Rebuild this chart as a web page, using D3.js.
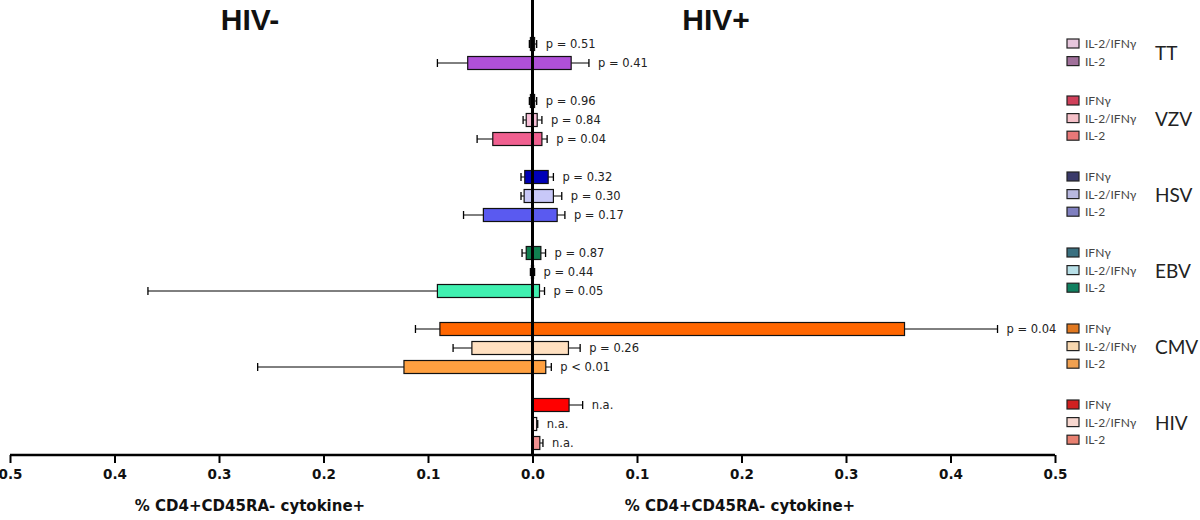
<!DOCTYPE html>
<html>
<head>
<meta charset="utf-8">
<script src="https://cdn.jsdelivr.net/npm/d3@7.9.0/dist/d3.min.js"></script>
<style>
  body { margin: 0; background: #fff; }
  svg { display: block; }
</style>
</head>
<body>
<svg id="chart" width="1200" height="520"></svg>
<script>
// --- data ---
const groups = ['TT', 'VZV', 'HSV', 'EBV', 'CMV', 'HIV'];
const cytokines = ['IFNγ', 'IL-2/IFNγ', 'IL-2'];

// one entry per drawn bar, top to bottom
const rowGroup    = ['TT', 'TT', 'VZV', 'VZV', 'VZV', 'HSV', 'HSV', 'HSV', 'EBV', 'EBV', 'EBV', 'CMV', 'CMV', 'CMV', 'HIV', 'HIV', 'HIV'];
const rowCytokine = ['IL-2/IFNγ', 'IL-2', 'IFNγ', 'IL-2/IFNγ', 'IL-2', 'IFNγ', 'IL-2/IFNγ', 'IL-2', 'IFNγ', 'IL-2/IFNγ', 'IL-2', 'IFNγ', 'IL-2/IFNγ', 'IL-2', 'IFNγ', 'IL-2/IFNγ', 'IL-2'];
// HIV- side (drawn to the left), null = n.a.
const hivNeg    = [0.002, 0.062, 0.002, 0.006, 0.038, 0.0074, 0.008, 0.047, 0.006, 0.001, 0.091, 0.0886, 0.058, 0.123, null, null, null];
const hivNegErr = [0.003, 0.091, 0.003, 0.009, 0.053, 0.011, 0.011, 0.066, 0.010, 0.002, 0.368, 0.112, 0.076, 0.263, null, null, null];
// HIV+ side (drawn to the right)
const hivPos    = [0.002, 0.037, 0.002, 0.0045, 0.009, 0.015, 0.020, 0.0236, 0.008, 0.001, 0.0067, 0.356, 0.0344, 0.0127, 0.035, 0.004, 0.007];
const hivPosErr = [0.004, 0.054, 0.004, 0.009, 0.014, 0.020, 0.028, 0.031, 0.0125, 0.002, 0.0115, 0.445, 0.0456, 0.018, 0.048, 0.005, 0.010];
const pLabels   = ['p = 0.51', 'p = 0.41', 'p = 0.96', 'p = 0.84', 'p = 0.04', 'p = 0.32', 'p = 0.30', 'p = 0.17', 'p = 0.87', 'p = 0.44', 'p = 0.05', 'p = 0.04', 'p = 0.26', 'p < 0.01', 'n.a.', 'n.a.', 'n.a.'];
const barColors = ['#e8c0e0', '#b050d8', '#e03060', '#f8c0d8', '#f06090', '#0000b8', '#c8c8f8', '#5a5af0', '#108050', '#a0e0e0', '#40f0b0', '#ff6600', '#ffe0c0', '#ffa040', '#ff0000', '#ffe8e8', '#f09090'];
const legendColors = ['#e6c6dc', '#a0709a', '#d0405a', '#f5c0c8', '#e87878', '#3a3a6a', '#b8b8e0', '#8080c0', '#3a7080', '#b8e0e8', '#108060', '#e07820', '#f8d8b0', '#f0a050', '#d02020', '#f8d8d0', '#e88070'];

const xTicks = [-0.5, -0.4, -0.3, -0.2, -0.1, 0, 0.1, 0.2, 0.3, 0.4, 0.5];
const sideTitles = ['HIV-', 'HIV+'];
const axisTitle = '% CD4+CD45RA- cytokine+';

// --- layout ---
const svg = d3.select('#chart');
const axisY = 455;

const x = d3.scaleLinear().domain([-0.5, 0.5]).range([10, 1055]);

// every group gets 3 cytokine slots plus one blank spacer slot
const slots = [];
groups.forEach((g, gi) => {
  cytokines.forEach(c => slots.push(g + '|' + c));
  if (gi < groups.length - 1) slots.push(g + '|gap');
});
const y = d3.scaleBand().domain(slots).range([15.5, 452.5]);
const rowY = i => y(rowGroup[i] + '|' + rowCytokine[i]) + y.bandwidth() / 2;
const barH = 13;

const rows = d3.range(rowGroup.length);

// --- bars ---
const bar = svg.append('g').selectAll('g').data(rows).join('g');

// error whiskers first so the bar sits on top
function whisker(sel, val, err) {
  sel.filter(i => val[i] !== null).each(function (i) {
    const g = d3.select(this);
    const sign = val === hivNeg ? -1 : 1;
    const yy = rowY(i);
    g.append('line')
      .attr('x1', x(sign * val[i])).attr('x2', x(sign * err[i]))
      .attr('y1', yy).attr('y2', yy)
      .attr('stroke', '#000').attr('stroke-width', 1);
    g.append('line')
      .attr('x1', x(sign * err[i])).attr('x2', x(sign * err[i]))
      .attr('y1', yy - 4).attr('y2', yy + 4)
      .attr('stroke', '#000').attr('stroke-width', 1.3);
  });
}
whisker(bar, hivNeg, hivNegErr);
whisker(bar, hivPos, hivPosErr);

bar.append('rect')
  .attr('x', i => x(hivNeg[i] === null ? 0 : -hivNeg[i]))
  .attr('y', i => rowY(i) - barH / 2)
  .attr('width', i => x(hivPos[i]) - x(hivNeg[i] === null ? 0 : -hivNeg[i]))
  .attr('height', barH)
  .attr('fill', i => barColors[i])
  .attr('stroke', '#111')
  .attr('stroke-width', 1.2);

bar.append('text')
  .attr('x', i => x(hivPosErr[i]) + 9)
  .attr('y', i => rowY(i) + 4)
  .attr('font-family', 'DejaVu Sans, sans-serif')
  .attr('font-size', 11.5)
  .attr('fill', '#222')
  .text(i => pLabels[i]);

// --- zero line ---
svg.append('line')
  .attr('x1', x(0)).attr('x2', x(0))
  .attr('y1', 0).attr('y2', axisY)
  .attr('stroke', '#000').attr('stroke-width', 3);

// --- x axis ---
const xAxis = d3.axisBottom(x)
  .tickValues(xTicks)
  .tickSize(8)
  .tickPadding(6)
  .tickFormat(d => d3.format('.1f')(Math.abs(d)));

const ax = svg.append('g').attr('transform', `translate(0,${axisY})`).call(xAxis);
ax.select('.domain').attr('stroke', '#000').attr('stroke-width', 2.5)
  .attr('d', `M${x(-0.5)},0H${x(0.5)}`);
ax.selectAll('.tick line').attr('stroke', '#000').attr('stroke-width', 2);
ax.selectAll('.tick text')
  .attr('fill', '#111')
  .attr('font-family', 'DejaVu Sans, sans-serif')
  .attr('font-weight', 'bold')
  .attr('font-size', 13.5);

// axis titles under each half
[250, 740].forEach(cx => {
  svg.append('text')
    .attr('x', cx).attr('y', 511)
    .attr('text-anchor', 'middle')
    .attr('font-family', 'DejaVu Sans, sans-serif')
    .attr('font-weight', 'bold')
    .attr('font-size', 15)
    .attr('fill', '#111')
    .text(axisTitle);
});

// side titles
svg.selectAll('.side').data(sideTitles).join('text')
  .attr('class', 'side')
  .attr('x', (d, i) => i === 0 ? 250 : 716)
  .attr('y', 30)
  .attr('text-anchor', 'middle')
  .attr('font-family', 'Liberation Sans, Arial, sans-serif')
  .attr('font-weight', 'bold')
  .attr('font-size', 30)
  .attr('fill', '#111')
  .text(d => d);

// --- legend on the right ---
const legStep = 17.6;
groups.forEach(g => {
  const idx = rows.filter(i => rowGroup[i] === g);
  const top = rowY(idx[0]);
  const lg = svg.append('g');
  idx.forEach((i, k) => {
    const yy = top + k * legStep;
    lg.append('rect')
      .attr('x', 1067).attr('y', yy - 5)
      .attr('width', 12).attr('height', 9)
      .attr('fill', legendColors[i])
      .attr('stroke', '#222').attr('stroke-width', 1.2);
    lg.append('text')
      .attr('x', 1085).attr('y', yy + 4)
      .attr('font-family', 'Lato, sans-serif')
      .attr('font-size', 12)
      .attr('fill', '#444')
      .text(rowCytokine[i]);
  });
  const mid = top + (idx.length - 1) * legStep / 2;
  lg.append('text')
    .attr('x', 1155).attr('y', mid + 7)
    .attr('font-family', 'Lato, sans-serif')
    .attr('font-size', 19)
    .attr('fill', '#222')
    .text(g);
});
</script>
</body>
</html>
